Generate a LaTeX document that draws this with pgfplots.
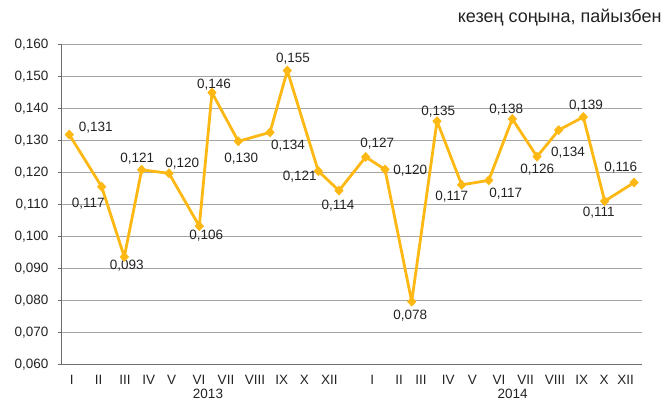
\documentclass[border=0pt]{standalone}
\usepackage{fontspec}
\setmainfont{Liberation Sans}
\usepackage{pgfplots}
\pgfplotsset{compat=1.18}
\definecolor{lineor}{RGB}{253,184,19}
\definecolor{gridg}{RGB}{165,165,165}
\definecolor{axg}{RGB}{110,110,110}
\definecolor{txt}{RGB}{35,35,35}

\begin{document}
\fontsize{13.5}{15}\selectfont
\begin{tikzpicture}[x=1pt,y=1pt]
% page = 664 x 401 px, axis box from (62,36) to (642,365) in px
\useasboundingbox (-62,-36) rectangle (602,365);
\begin{axis}[
    at={(0,0)}, anchor=south west,
    scale only axis, width=580pt, height=320pt,
    xmin=62, xmax=642, ymin=0.06, ymax=0.16,
    axis x line*=bottom, axis y line*=left,
    axis line style={-, axg, line width=1pt},
    ytick={0.06,0.07,0.08,0.09,0.10,0.11,0.12,0.13,0.14,0.15,0.16},
    ymajorgrids, grid style={gridg, line width=1pt},
    tick align=outside, major tick length=4pt,
    y tick style={axg, line width=1pt},
    x tick style={draw=none},
    y tick label style={/pgf/number format/fixed, /pgf/number format/fixed zerofill,
        /pgf/number format/precision=3, /pgf/number format/use comma,
        /pgf/number format/assume math mode=true},
    yticklabel style={text=txt, xshift=-5pt},
    xtick={71.7,98.7,125,148.7,171.7,199,226,255,281.7,304.3,329.3,
           372.3,399,421,448.3,472.3,499,525.7,555,581.7,604,625.7},
    xticklabels={I,II,III,IV,V,VI,VII,VIII,IX,X,XII,
                 I,II,III,IV,V,VI,VII,VIII,IX,X,XII},
    xticklabel style={text=txt, yshift=-2pt},
    clip=false,
]
\addplot[lineor, line width=2.8pt, line join=round,
    mark=diamond*, mark size=4.6pt,
    mark options={fill=lineor, draw=lineor, line width=0.5pt, xscale=1.25}]
coordinates {
(69.3,0.1320) (101.7,0.1157) (124.3,0.0938) (141.7,0.1210)
(169.0,0.1199) (199.3,0.1034) (212.0,0.1451) (238.3,0.1299)
(270.0,0.1327) (287.3,0.1520) (318.3,0.1206) (339.0,0.1145)
(365.7,0.1250) (385.0,0.1211) (411.7,0.0798) (437.0,0.1362)
(461.7,0.1163) (488.7,0.1177) (512.3,0.1369) (537.0,0.1251)
(558.7,0.1334) (583.3,0.1375) (604.7,0.1112) (634.0,0.1170)
};
\begin{scope}[every node/.style={text=txt, inner sep=0pt}]
\node at (95.7,0.13416) {0,131};
\node at (88.3,0.11053) {0,117};
\node at (126.7,0.09091) {0,093};
\node at (137.3,0.12459) {0,121};
\node at (182.3,0.12303) {0,120};
\node at (206.3,0.10031) {0,106};
\node at (214.0,0.14750) {0,146};
\node at (241.3,0.12438) {0,130};
\node at (288.0,0.12853) {0,134};
\node at (293.0,0.15584) {0,155};
\node at (299.7,0.11884) {0,121};
\node at (338.0,0.10969) {0,114};
\node at (377.3,0.12928) {0,127};
\node at (410.3,0.12072) {0,120};
\node at (410.3,0.07531) {0,078};
\node at (438.3,0.13906) {0,135};
\node at (451.7,0.11259) {0,117};
\node at (505.7,0.11344) {0,117};
\node at (506.3,0.13991) {0,138};
\node at (537.3,0.12094) {0,126};
\node at (568.0,0.12634) {0,134};
\node at (586.0,0.14116) {0,139};
\node at (598.7,0.10759) {0,111};
\node at (620.7,0.12166) {0,116};
\end{scope}
\end{axis}
\node[text=txt, inner sep=0pt] at (146,-29) {2013};
\node[text=txt, inner sep=0pt] at (450.7,-29) {2014};
\node[text=txt, inner sep=0pt, anchor=east, font=\fontsize{18}{20}\selectfont] at (599.7,347) {кезең соңына, пайызбен};
\end{tikzpicture}
\end{document}
